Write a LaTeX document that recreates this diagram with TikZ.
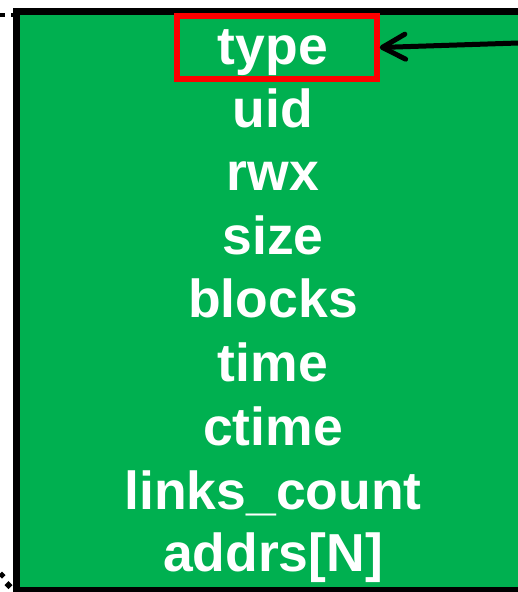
\documentclass[tikz,border=0pt]{standalone}
\usepackage{fontspec}
\setmainfont{Liberation Sans}
\usetikzlibrary{arrows.meta}
\definecolor{boxgreen}{RGB}{0,176,80}
\tikzset{
  field/.style={anchor=base, text=white, font=\fontsize{53.5}{60}\selectfont\bfseries, inner sep=0pt},
  redbox/.style={draw=red, line width=5.5pt, minimum width=200pt, minimum height=63pt, inner sep=0pt},
  pointer/.style={line width=5pt, line cap=round, -{Straight Barb[length=23pt, width=25pt, line cap=round, line join=round]}}
}
\begin{document}
\begin{tikzpicture}[x=1pt, y=-1pt]
\useasboundingbox (0,0) rectangle (518,592);
\clip (0,0) rectangle (518,592);
% outer box
\draw[line width=7pt, fill=boxgreen] (16.5,11) rectangle (540,590.5);
% dotted line ends
\draw[line width=4pt, dash pattern=on 5pt off 6pt] (0,15) -- (14,15);
\fill (2,571.5) -- (5.5,575) -- (2,578.5) -- (-1.5,575) -- cycle;
\fill (8.5,581) -- (12.5,585) -- (8.5,589) -- (4.5,585) -- cycle;
% fields
\node[field] (type) at (273,64) {type};
\node[field] (uid) at (273,127) {uid};
\node[field] (rwx) at (273,190) {rwx};
\node[field] (size) at (273,254) {size};
\node[field] (blocks) at (273,317.5) {blocks};
\node[field] (time) at (273,381.5) {time};
\node[field] (ctime) at (273,445.5) {ctime};
\node[field] (links) at (273,509.5) {links\_count};
\node[field] (addrs) at (273,571) {addrs[N]};
% red highlight
\node[redbox] (typebox) at (277,47.5) {};
% arrow
\coordinate (src) at (540,42.3);
\draw[pointer] (src) -- (typebox.east);
\end{tikzpicture}
\end{document}
